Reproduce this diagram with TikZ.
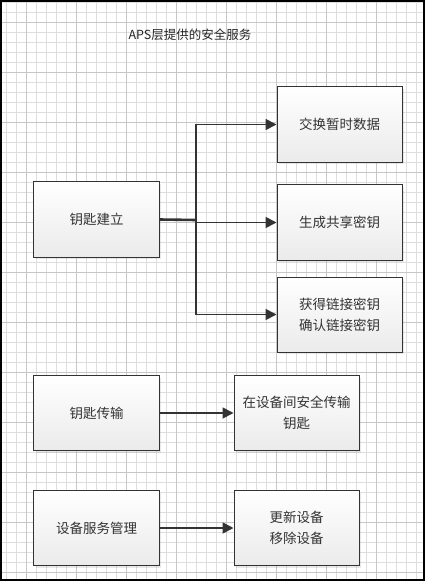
\documentclass[tikz,border=0pt]{standalone}
\usepackage{fontspec}
\newfontfamily\cjk{Noto Sans CJK SC}
\usetikzlibrary{arrows.meta,shadows}
\definecolor{ink}{HTML}{333333}
\begin{document}
\begin{tikzpicture}[x=1bp,y=-1bp,
  boxnode/.style={draw=ink, line width=1bp, top color=white, bottom color=black!8,
    minimum width=125bp, minimum height=75bp, inner sep=0pt, align=center,
    font=\cjk\fontsize{13.5bp}{21bp}\selectfont, text=black!80,
    drop shadow={opacity=0.18, shadow xshift=2bp, shadow yshift=-2bp}},
  conn/.style={draw=ink, line width=1.8bp, -{Triangle[length=11bp,width=11bp]}},
  plain/.style={draw=ink, line width=2.6bp}]
\useasboundingbox (0,0) rectangle (425,581);
\fill[white] (0,0) rectangle (425,581);
\begin{scope}
\clip (0,0) rectangle (425,581);
\foreach \i in {0,...,42} \draw[black!13, line width=0.6bp] (6+\i*10,0) -- (6+\i*10,581);
\foreach \j in {0,...,58} \draw[black!13, line width=0.6bp] (0,2.7+\j*10) -- (425,2.7+\j*10);
\foreach \i in {0,...,8} \draw[black!22, line width=0.6bp] (26+\i*50,0) -- (26+\i*50,581);
\foreach \j in {0,...,11} \draw[black!22, line width=0.6bp] (0,22.7+\j*50) -- (425,22.7+\j*50);
\end{scope}
\draw[black, line width=1.6bp] (0.8,0.8) rectangle (424.2,580.2);

\node[font=\cjk\fontsize{12.5bp}{14bp}\selectfont, text=black!85] (title) at (190,35) {APS层提供的安全服务};

\node[boxnode] (k1) at (96.5,219.5) {钥匙建立};
\node[boxnode] (r1) at (339.5,124.5) {交换暂时数据};
\node[boxnode] (r2) at (339.5,222.5) {生成共享密钥};
\node[boxnode] (r3) at (339.5,314.5) {获得链接密钥\\确认链接密钥};
\node[boxnode] (k2) at (96.5,413) {钥匙传输};
\node[boxnode] (t2) at (296.5,413) {在设备间安全传输\\钥匙};
\node[boxnode] (k3) at (96.5,528) {设备服务管理};
\node[boxnode] (t3) at (296.5,528) {更新设备\\移除设备};

\coordinate (j) at (196,220);
\draw[plain] (k1.east) -- (j);
\draw[conn] (j) |- (r1.west);
\draw[conn] (j |- r2.west) -- (r2.west);
\draw[conn] (j) |- (r3.west);
\draw[conn] (k2) -- (t2);
\draw[conn] (k3) -- (t3);
\end{tikzpicture}
\end{document}
